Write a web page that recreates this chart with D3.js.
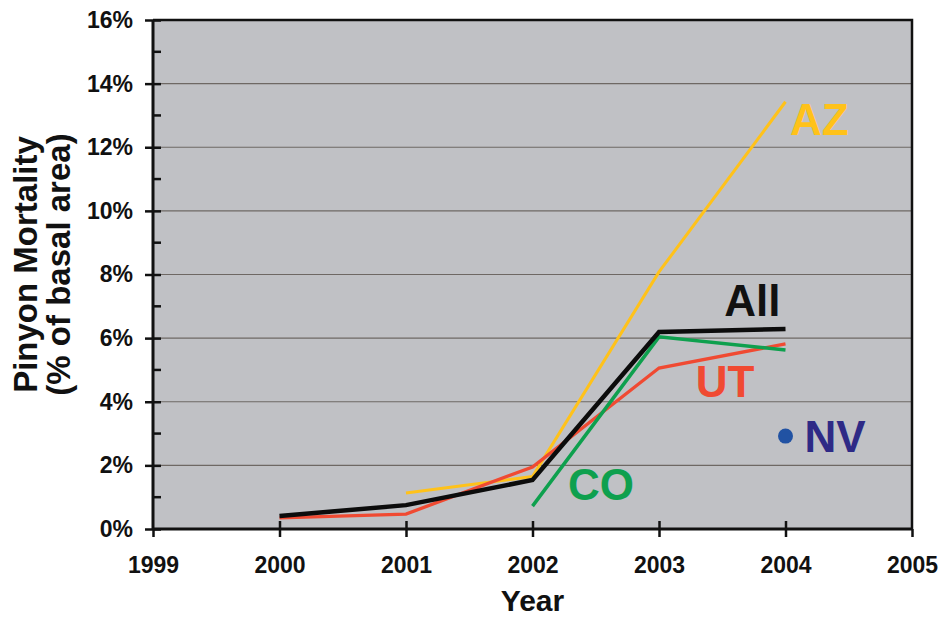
<!DOCTYPE html>
<html>
<head>
<meta charset="utf-8">
<script src="https://cdn.jsdelivr.net/npm/d3@7"></script>
<style>
  body { margin: 0; background: #fff; }
  text { font-family: Arial, "Liberation Sans", sans-serif; font-weight: bold; }
</style>
</head>
<body>
<div class="chart"></div>
<script>
var svgWidth = 942;
var svgHeight = 619;

var margin = { top: 20, right: 30, bottom: 90, left: 153 };
var width = svgWidth - margin.left - margin.right;
var height = svgHeight - margin.top - margin.bottom;

// data (mortality, %)
var years = [2000, 2001, 2002, 2003, 2004];
var allVals = [0.41, 0.75, 1.54, 6.19, 6.29];
var utVals = [0.35, 0.47, 1.95, 5.06, 5.82];
var azYears = [2001, 2002, 2003, 2004];
var azVals = [1.13, 1.65, 8.08, 13.43];
var coYears = [2002, 2003, 2004];
var coVals = [0.72, 6.04, 5.63];
var nvYear = 2004;
var nvVal = 2.92;

var xTicks = [1999, 2000, 2001, 2002, 2003, 2004, 2005];
var yTicks = [0, 2, 4, 6, 8, 10, 12, 14, 16];
var yMinor = [1, 3, 5, 7, 9, 11, 13, 15];

var svg = d3.select(".chart")
  .append("svg")
  .attr("width", svgWidth)
  .attr("height", svgHeight);

var chartGroup = svg.append("g")
  .attr("transform", `translate(${margin.left}, ${margin.top})`);

var x = d3.scaleLinear().domain([1999, 2005]).range([0, width]);
var y = d3.scaleLinear().domain([0, 16]).range([height, 0]);

// plot background
chartGroup.append("rect")
  .attr("width", width)
  .attr("height", height)
  .attr("fill", "#c0c1c5");

// gridlines
chartGroup.selectAll(".grid")
  .data(yTicks.slice(1, -1))
  .enter()
  .append("line")
  .attr("x1", 0)
  .attr("x2", width)
  .attr("y1", function(d) { return y(d); })
  .attr("y2", function(d) { return y(d); })
  .attr("stroke", "#6e6864")
  .attr("stroke-width", 1.2);

// frame top and right
chartGroup.append("path")
  .attr("d", `M0,0H${width}V${height}`)
  .attr("fill", "none")
  .attr("stroke", "#111")
  .attr("stroke-width", 2.5);

// y axis
var leftAxis = d3.axisLeft(y)
  .tickValues(yTicks)
  .tickSize(8)
  .tickFormat(function(d) { return d + "%"; });
var yAxisG = chartGroup.append("g").call(leftAxis);
yAxisG.select(".domain").remove();
yAxisG.selectAll(".tick line")
  .attr("x1", 8)
  .attr("stroke", "#111")
  .attr("stroke-width", 2.5);
yAxisG.selectAll(".tick text")
  .attr("x", -20)
  .attr("fill", "#111")
  .style("font-size", "23px");

yAxisG.selectAll(".minor")
  .data(yMinor)
  .enter()
  .append("line")
  .attr("x1", 0)
  .attr("x2", 8)
  .attr("y1", function(d) { return y(d); })
  .attr("y2", function(d) { return y(d); })
  .attr("stroke", "#111")
  .attr("stroke-width", 2.5);

// x axis
var bottomAxis = d3.axisBottom(x)
  .tickValues(xTicks)
  .tickSize(8)
  .tickFormat(d3.format("d"));
var xAxisG = chartGroup.append("g")
  .attr("transform", `translate(0, ${height})`)
  .call(bottomAxis);
xAxisG.select(".domain").remove();
xAxisG.selectAll(".tick line")
  .attr("y1", function(d) { return (d === 1999 || d === 2005) ? 0 : -8; })
  .attr("stroke", "#111")
  .attr("stroke-width", 2.5);
xAxisG.selectAll(".tick text")
  .attr("y", 28)
  .attr("fill", "#111")
  .style("font-size", "23px");

chartGroup.append("line")
  .attr("x1", 0).attr("x2", width)
  .attr("y1", height).attr("y2", height)
  .attr("stroke", "#111")
  .attr("stroke-width", 3);
chartGroup.append("line")
  .attr("x1", 0).attr("x2", 0)
  .attr("y1", 0).attr("y2", height)
  .attr("stroke", "#111")
  .attr("stroke-width", 3);

// lines
var line = d3.line()
  .x(function(d) { return x(d[0]); })
  .y(function(d) { return y(d[1]); });

function drawSeries(xs, vals, color, w) {
  chartGroup.append("path")
    .datum(d3.zip(xs, vals))
    .attr("d", line)
    .attr("fill", "none")
    .attr("stroke", color)
    .attr("stroke-width", w)
    .attr("stroke-linejoin", "miter");
}

drawSeries(azYears, azVals, "#ffc21a", 3);
drawSeries(years, utVals, "#f04a32", 3.3);
drawSeries(coYears, coVals, "#0ea04e", 3.5);
drawSeries(years, allVals, "#0c0c0c", 4.5);

chartGroup.append("circle")
  .attr("cx", x(nvYear))
  .attr("cy", y(nvVal))
  .attr("r", 7.5)
  .attr("fill", "#2152a3");

// series labels
var labels = [
  { t: "AZ", xv: 2004.035, yv: 12.39, c: "#ffc21a", a: "start" },
  { t: "All", xv: 2003.96, yv: 6.70, c: "#111", a: "end" },
  { t: "UT", xv: 2003.29, yv: 4.15, c: "#f04a32", a: "start" },
  { t: "NV", xv: 2004.15, yv: 2.42, c: "#2e2a86", a: "start" },
  { t: "CO", xv: 2002.28, yv: 0.91, c: "#0ea04e", a: "start" }
];
chartGroup.selectAll(".lbl")
  .data(labels)
  .enter()
  .append("text")
  .attr("x", function(d) { return x(d.xv); })
  .attr("y", function(d) { return y(d.yv); })
  .attr("text-anchor", function(d) { return d.a; })
  .attr("fill", function(d) { return d.c; })
  .style("font-size", "44px")
  .text(function(d) { return d.t; });

// axis titles
chartGroup.append("text")
  .attr("x", width / 2)
  .attr("y", height + 82)
  .attr("text-anchor", "middle")
  .attr("fill", "#111")
  .style("font-size", "30px")
  .text("Year");

var yTitle = svg.append("text")
  .attr("transform", `translate(37, ${margin.top + height / 2 - 10}) rotate(-90)`)
  .attr("text-anchor", "middle")
  .attr("fill", "#111")
  .style("font-size", "33px");
yTitle.append("tspan").attr("x", 0).attr("dy", 0).text("Pinyon Mortality");
yTitle.append("tspan").attr("x", 0).attr("dy", 33).text("(% of basal area)");
</script>
</body>
</html>
